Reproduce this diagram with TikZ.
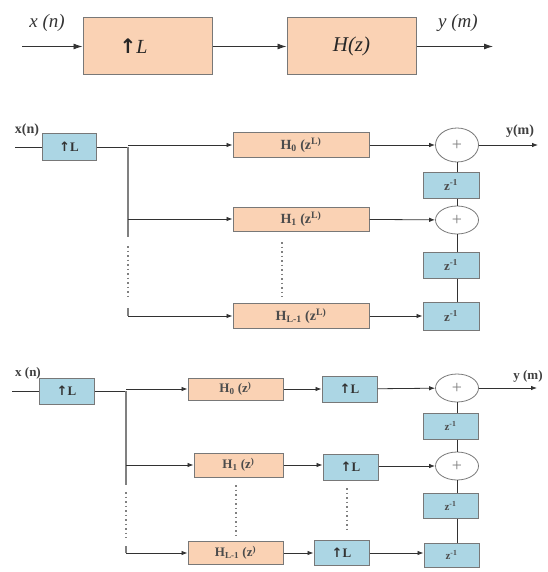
\documentclass[tikz,border=0pt]{standalone}
\usepackage{fontspec}
\setmainfont{Liberation Serif}
\newfontfamily\djv{DejaVu Sans}
\usetikzlibrary{arrows.meta,shapes.geometric}
\definecolor{peach}{RGB}{250,210,180}
\definecolor{lblue}{RGB}{172,214,228}
\definecolor{bord}{RGB}{120,120,120}
\definecolor{wire}{RGB}{50,50,50}
\newcommand{\upL}{{\djv\bfseries ↑}L}
\begin{document}
\begin{tikzpicture}[x=1pt,y=-1pt,
  pbox/.style={draw=bord,fill=peach,line width=1pt,inner sep=0pt},
  bbox/.style={draw=bord,fill=lblue,line width=1pt,inner sep=0pt,font=\bfseries\fontsize{13}{14}\selectfont,text=black!80},
  hbox/.style={pbox,font=\bfseries\fontsize{14}{15}\selectfont,text=black!70},
  gbox/.style={pbox,font=\bfseries\fontsize{13}{14}\selectfont,text=black!70},
  zbox/.style={bbox,font=\bfseries\fontsize{13}{14}\selectfont,text=black!70},
  sumc/.style={draw=bord,fill=white,ellipse,line width=0.8pt,inner sep=0pt,text=gray,font=\fontsize{18}{18}\selectfont},
  wirel/.style={draw=wire,line width=0.8pt},
  arr/.style={wirel,-{Latex[length=6pt,width=4.5pt]}},
  bigarr/.style={draw=black!80,line width=0.9pt,-{Latex[length=9pt,width=6pt]}},
  bus/.style={draw=gray,line width=1.4pt},
  dotsl/.style={draw=gray,line width=1.2pt,dash pattern=on 1.5pt off 3pt},
  lbl/.style={font=\bfseries\fontsize{14}{15}\selectfont,text=black!75}
]
\useasboundingbox (0,0) rectangle (547,572);

% ---------------- top ----------------
\node[pbox,minimum width=129pt,minimum height=57pt,font=\itshape\fontsize{20}{21}\selectfont,text=black!85] (A1) at (147.5,46.5) {\hspace*{-28pt}\upL};
\node[pbox,minimum width=129pt,minimum height=57pt,font=\itshape\fontsize{21}{22}\selectfont,text=black!85] (A2) at (351.5,46.5) {H(z)};
\coordinate (ain) at (22,46.5);
\coordinate (aout) at (493,46.5);
\draw[bigarr] (ain) -- (A1);
\draw[bigarr] (A1) -- (A2);
\draw[bigarr] (A2) -- (aout);
\node[font=\itshape\fontsize{19}{20}\selectfont,text=black!80] (xt) at (47,23) {x (n)};
\node[font=\itshape\fontsize{19}{20}\selectfont,text=black!80] (yt) at (458,23) {y (m)};

% ---------------- middle ----------------
\node[bbox,minimum width=54pt,minimum height=27pt] (U1) at (69,147) {\upL};
\node[lbl] (xm) at (27,130) {x(n)};
\coordinate (min) at (15,147);
\draw[wirel] (min) -- (U1);
\coordinate (b0) at (128,147);
\draw[wirel] (U1) -- (b0);
\node[hbox,minimum width=136pt,minimum height=25pt] (H0) at (301,145) {H\textsubscript{0} (z\textsuperscript{L)}};
\node[hbox,minimum width=136pt,minimum height=24pt] (H1) at (301,219) {H\textsubscript{1} (z\textsuperscript{L)}};
\node[hbox,minimum width=136pt,minimum height=25pt] (HL) at (301,316) {H\textsubscript{L-1} (z\textsuperscript{L)}};
\coordinate (b1) at (128,219);
\coordinate (b2) at (128,237);
\coordinate (b3) at (128,246);
\coordinate (b4) at (128,300);
\coordinate (b5) at (128,308);
\coordinate (b6) at (128,316);
\draw[bus] (b0) -- (b2);
\draw[dotsl] (b3) -- (b4);
\draw[bus] (b5) -- (b6);
\draw[arr] (b0 |- H0) -- (H0);
\draw[arr] (b1) -- (H1);
\draw[wirel] (b6) -- ++(10,0) coordinate (b7);
\draw[arr] (b7) -- (HL);
\coordinate (hd1) at (282,242);
\coordinate (hd2) at (282,297);
\draw[dotsl] (hd1) -- (hd2);

\node[sumc,minimum width=43pt,minimum height=34pt] (C1) at (457,145) {+};
\node[sumc,minimum width=43pt,minimum height=28pt] (C2) at (457,220) {+};
\node[zbox,minimum width=56pt,minimum height=26pt] (Z1) at (451,185) {z\textsuperscript{-1}};
\node[zbox,minimum width=56pt,minimum height=26pt] (Z2) at (451,265) {z\textsuperscript{-1}};
\node[zbox,minimum width=56pt,minimum height=28pt] (Z3) at (451,316) {z\textsuperscript{-1}};
\draw[arr] (H0) -- (C1);
\draw[arr] (H1) -- (C2);
\draw[arr] (HL) -- (Z3);
\draw[wirel] (C1) -- (C1 |- Z1.north);
\draw[wirel] (C2 |- Z1.south) -- (C2);
\draw[wirel] (C2) -- (C2 |- Z2.north);
\draw[wirel] (C2 |- Z2.south) -- (C2 |- Z3.north);
\coordinate (mout) at (538,145);
\draw[arr] (C1) -- (mout);
\node[lbl] (ym) at (520,131) {y(m)};

% ---------------- bottom ----------------
\node[bbox,minimum width=55pt,minimum height=26pt] (V1) at (66.5,391) {\upL};
\node[lbl,font=\bfseries\fontsize{13}{14}\selectfont] (xb) at (28,373) {x (n)};
\coordinate (nin) at (12,391);
\draw[wirel] (nin) -- (V1);
\coordinate (c0) at (126,391);
\draw[wirel] (V1) -- (c0);
\node[gbox,minimum width=95pt,minimum height=22pt] (G0) at (235.5,389) {H\textsubscript{0} (z\textsuperscript{)}};
\node[gbox,minimum width=89pt,minimum height=24pt] (G1) at (238.5,465) {H\textsubscript{1} (z\textsuperscript{)}};
\node[gbox,minimum width=95pt,minimum height=23pt] (GL) at (235.5,553) {H\textsubscript{L-1} (z\textsuperscript{)}};
\coordinate (c1) at (126,465);
\coordinate (c2) at (126,485);
\coordinate (c3) at (126,492);
\coordinate (c4) at (126,538);
\coordinate (c5) at (126,546);
\coordinate (c6) at (126,553);
\draw[bus] (c0) -- (c2);
\draw[dotsl] (c3) -- (c4);
\draw[bus] (c5) -- (c6);
\draw[arr] (c0 |- G0) -- (G0);
\draw[arr] (c1) -- (G1);
\draw[wirel] (c6) -- ++(10,0) coordinate (c7);
\draw[arr] (c7) -- (GL);
\coordinate (gd1) at (236,485);
\coordinate (gd2) at (236,535);
\draw[dotsl] (gd1) -- (gd2);

\node[bbox,minimum width=55pt,minimum height=26pt] (W1) at (349.5,389) {\upL};
\node[bbox,minimum width=55pt,minimum height=26pt] (W2) at (350.5,467) {\upL};
\node[bbox,minimum width=55pt,minimum height=25pt] (W3) at (341.5,553) {\upL};
\coordinate (wd1) at (347,488);
\coordinate (wd2) at (347,530);
\draw[dotsl] (wd1) -- (wd2);
\draw[arr] (G0) -- (W1);
\draw[arr] (G1) -- (G1 -| W2.west);
\draw[arr] (GL) -- (W3);

\node[sumc,minimum width=43pt,minimum height=28pt] (D1) at (457,388) {+};
\node[sumc,minimum width=43pt,minimum height=28pt] (D2) at (457,466) {+};
\node[zbox,minimum width=55pt,minimum height=26pt,font=\bfseries\fontsize{11}{12}\selectfont] (Y1) at (450.5,426) {z\textsuperscript{-1}};
\node[zbox,minimum width=55pt,minimum height=25pt,font=\bfseries\fontsize{11}{12}\selectfont] (Y2) at (450.5,505.5) {z\textsuperscript{-1}};
\node[zbox,minimum width=55pt,minimum height=24pt,font=\bfseries\fontsize{11}{12}\selectfont] (Y3) at (451.5,555) {z\textsuperscript{-1}};
\draw[arr] (W1) -- (D1);
\draw[arr] (W2.east |- D2) -- (D2);
\draw[arr] (W3) -- (W3 -| Y3.west);
\draw[wirel] (D1) -- (D1 |- Y1.north);
\draw[wirel] (D2 |- Y1.south) -- (D2);
\draw[wirel] (D2) -- (D2 |- Y2.north);
\draw[wirel] (D2 |- Y2.south) -- (D2 |- Y3.north);
\coordinate (bout) at (537,388);
\draw[arr] (D1) -- (bout);
\node[lbl,font=\bfseries\fontsize{13}{14}\selectfont] (yb) at (528,376) {y (m)};
\end{tikzpicture}
\end{document}
